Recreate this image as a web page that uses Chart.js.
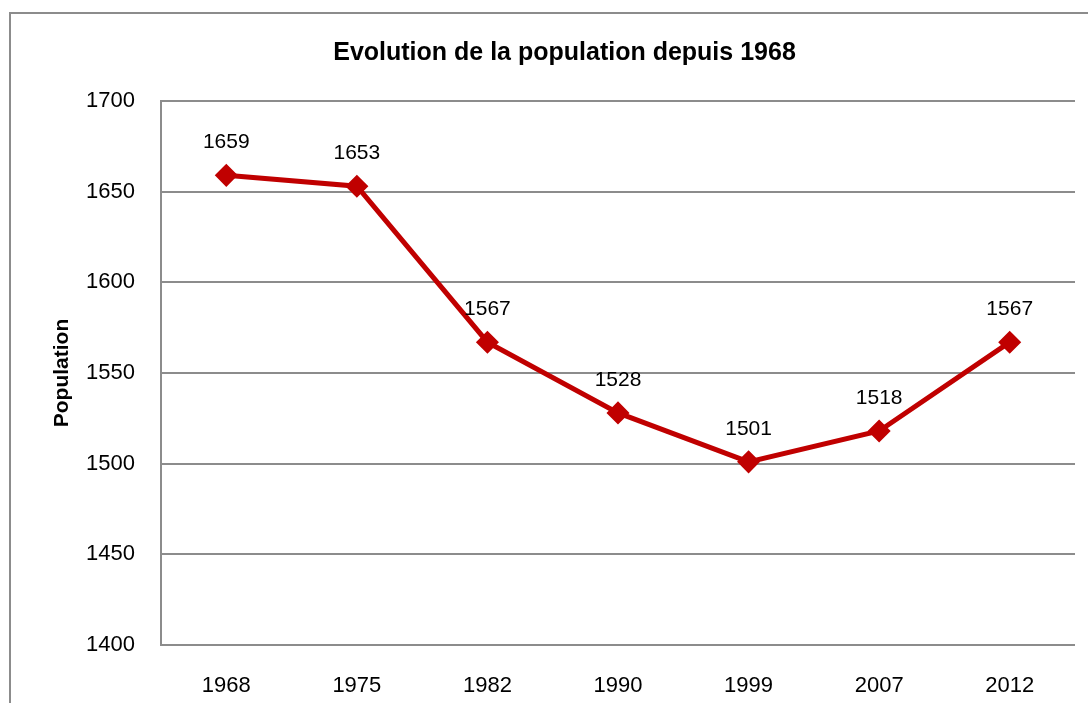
<!DOCTYPE html>
<html>
<head>
<meta charset="utf-8">
<script src="https://cdn.jsdelivr.net/npm/chart.js@4/dist/chart.umd.min.js"></script>
<style>
  html, body { margin: 0; padding: 0; background: #fff; overflow: hidden; }
  #frame { position: absolute; left: 9px; top: 12px; width: 2000px; height: 2000px; border: 2px solid #8c8c8c; box-sizing: border-box; }
  #wrap { position: absolute; left: 0; top: 0; width: 1088px; height: 703px; }
</style>
</head>
<body>
<div id="frame"></div>
<div id="wrap"><canvas id="chart" width="1088" height="703"></canvas></div>
<script>
// Population chart data
const years = ['1968', '1975', '1982', '1990', '1999', '2007', '2012'];
const population = [1659, 1653, 1567, 1528, 1501, 1518, 1567];
const yTicks = [1400, 1450, 1500, 1550, 1600, 1650, 1700];

const fontFamily = '"Liberation Sans", Arial, sans-serif';
const lineColor = '#c00000';
const gridColor = '#8c8c8c';

// Draws the value above each point
const valueLabels = {
  id: 'valueLabels',
  afterDatasetsDraw(chart) {
    const ctx = chart.ctx;
    const meta = chart.getDatasetMeta(0);
    ctx.save();
    ctx.font = '21px ' + fontFamily;
    ctx.fillStyle = '#000';
    ctx.textAlign = 'center';
    ctx.textBaseline = 'middle';
    meta.data.forEach((pt, i) => {
      ctx.fillText(String(population[i]), pt.x, pt.y - 33);
    });
    ctx.restore();
  }
};

const ctx = document.getElementById('chart').getContext('2d');
new Chart(ctx, {
  type: 'line',
  data: {
    labels: years,
    datasets: [{
      data: population,
      borderColor: lineColor,
      backgroundColor: lineColor,
      borderWidth: 5,
      pointStyle: 'rectRot',
      pointRadius: 8,
      pointHoverRadius: 8,
      tension: 0
    }]
  },
  options: {
    responsive: false,
    animation: false,
    layout: { padding: { left: 50, right: 9, top: 0, bottom: 0 } },
    plugins: {
      legend: { display: false },
      tooltip: { enabled: false },
      title: {
        display: true,
        text: 'Evolution de la population depuis 1968',
        color: '#000',
        font: { family: fontFamily, size: 25, weight: 'bold' },
        padding: { top: 38, bottom: 33 }
      }
    },
    scales: {
      x: {
        offset: true,
        grid: { display: false, drawTicks: false },
        border: { display: false },
        ticks: { color: '#000', font: { family: fontFamily, size: 22 }, padding: 28, maxRotation: 0 },
        afterFit(scale) { scale.height = 58; }
      },
      y: {
        min: 1400,
        max: 1700,
        afterBuildTicks(scale) { scale.ticks = yTicks.map(v => ({ value: v })); },
        grid: { color: gridColor, lineWidth: 2, drawTicks: false },
        border: { display: true, color: gridColor, width: 2 },
        ticks: {
          color: '#000',
          font: { family: fontFamily, size: 22 },
          padding: 26,
          callback: value => String(value)
        },
        title: {
          display: true,
          text: 'Population',
          color: '#000',
          font: { family: fontFamily, size: 21, weight: 'bold' },
          padding: 0
        },
        afterFit(scale) { scale.width = 111; }
      }
    }
  },
  plugins: [valueLabels]
});
</script>
</body>
</html>
